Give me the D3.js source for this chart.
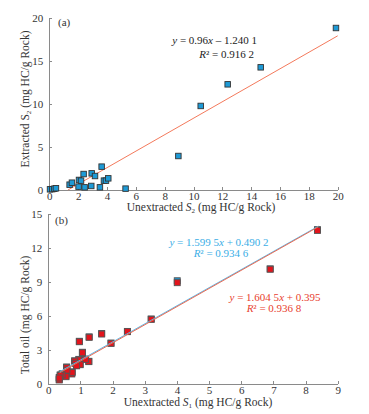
<!DOCTYPE html>
<html>
<head>
<meta charset="utf-8">
<script src="https://d3js.org/d3.v7.min.js"></script>
<style>
  body { margin: 0; background: #fff; }
  svg { font-family: "Liberation Serif", "DejaVu Serif", serif; }
  .axis path, .axis line { stroke: #8a8a8a; shape-rendering: crispEdges; }
  .axis text { font-size: 11px; fill: #333; font-family: "Liberation Serif", serif; }
  .title { font-size: 11.5px; fill: #333; }
</style>
</head>
<body>
<svg id="chart" width="369" height="414"></svg>
<script>
// panel (a): unextracted S2 vs extracted S2
var s2Unextracted = [0.05, 0.2, 0.35, 0.46, 1.41, 1.57, 2.06, 2.2, 2.38, 2.03, 2.45, 2.94, 2.91, 3.17, 3.51, 3.63, 3.79, 3.93, 4.09, 5.29, 8.95, 10.5, 12.37, 14.66, 19.88];
var s2Extracted   = [0.08, 0.1, 0.15, 0.2, 0.62, 0.85, 1.17, 1.09, 1.86, 0.39, 0.31, 1.94, 0.47, 1.63, 0.31, 2.72, 1.09, 1.09, 1.36, 0.16, 3.96, 9.79, 12.31, 14.29, 18.87];
var fitA = [0.96, -1.2401];          // slope, intercept
var xTicksA = [0, 2, 4, 6, 8, 10, 12, 14, 16, 18, 20];
var yTicksA = [0, 5, 10, 15, 20];

// panel (b): unextracted S1 vs total oil (two series)
var s1Unextracted = [8.37, 6.90, 4.01, 3.20, 2.46, 1.95, 1.66, 1.27, 0.965, 1.06, 1.26, 1.16, 0.95, 0.99, 0.82, 0.84, 0.88, 0.73, 0.74, 0.57, 0.58, 0.55, 0.43, 0.37, 0.34, 0.34];
var totalOilBlue  = [13.62, 10.15, 9.10, 5.72, 4.62, 3.59, 4.44, 4.14, 3.75, 2.78, 1.98, 2.18, 2.15, 1.72, 2.02, 1.85, 1.62, 0.92, 1.05, 1.48, 1.25, 0.68, 0.88, 0.78, 0.38, 0.55];
var totalOilRed   = [13.55, 10.12, 8.93, 5.69, 4.60, 3.57, 4.39, 4.10, 3.71, 2.74, 1.95, 2.15, 2.10, 1.68, 2.00, 1.80, 1.58, 0.86, 1.00, 1.42, 1.20, 0.62, 0.77, 0.72, 0.33, 0.50];
var fitBlue = [1.5995, 0.4902];
var fitRed  = [1.6045, 0.395];
var xTicksB = [0, 1, 2, 3, 4, 5, 6, 7, 8, 9];
var yTicksB = [0, 3, 6, 9, 12, 15];

var svg = d3.select("#chart");

function drawAxes(x, y, xt, yt, yBase, xLeft) {
  svg.append("g").attr("class", "axis")
    .attr("transform", "translate(0," + yBase + ")")
    .call(d3.axisBottom(x).tickValues(xt).tickSizeInner(-3).tickSizeOuter(0).tickPadding(2).tickFormat(d3.format("d")));
  svg.append("g").attr("class", "axis")
    .attr("transform", "translate(" + xLeft + ",0)")
    .call(d3.axisLeft(y).tickValues(yt).tickSizeInner(-3).tickSizeOuter(0).tickPadding(6).tickFormat(d3.format("d")));
}

function fitLine(fit, x0, x1, x, y, color) {
  var line = d3.line().x(function(d) { return x(d); }).y(function(d) { return y(fit[0] * d + fit[1]); });
  svg.append("path").datum([x0, x1])
    .attr("d", line).attr("fill", "none").attr("stroke", color).attr("stroke-width", 1);
}

function squares(xs, ys, x, y, fill, stroke, size) {
  svg.append("g").selectAll("rect").data(xs).enter().append("rect")
    .attr("x", function(d) { return x(d) - size / 2; })
    .attr("y", function(d, i) { return y(ys[i]) - size / 2; })
    .attr("width", size).attr("height", size)
    .attr("fill", fill).attr("stroke", stroke).attr("stroke-width", 0.9);
}

// ---- panel (a)
var xA = d3.scaleLinear().domain([0, 20]).range([49.3, 337.7]);
var yA = d3.scaleLinear().domain([0, 20]).range([190, 18.3]);
drawAxes(xA, yA, xTicksA, yTicksA, 190, 49.3);
fitLine(fitA, -fitA[1] / fitA[0], 20, xA, yA, "#f47a5c");
squares(s2Unextracted, s2Extracted, xA, yA, "#1e9ad6", "#333", 5.5);

svg.append("text").attr("x", 58).attr("y", 26).attr("font-size", 11).attr("fill", "#333").text("(a)");
var eqA = svg.append("text").attr("x", 257).attr("y", 44).attr("text-anchor", "end").attr("font-size", 11).attr("fill", "#222");
eqA.append("tspan").attr("font-style", "italic").text("y");
eqA.append("tspan").text(" = 0.96");
eqA.append("tspan").attr("font-style", "italic").text("x");
eqA.append("tspan").text(" \u2013 1.240 1");
var rA = svg.append("text").attr("x", 254).attr("y", 58).attr("text-anchor", "end").attr("font-size", 11).attr("fill", "#222");
rA.append("tspan").attr("font-style", "italic").text("R");
rA.append("tspan").text("\u00b2 = 0.916 2");

var tA = svg.append("text").attr("class", "title").attr("x", 201).attr("y", 210.5).attr("text-anchor", "middle");
tA.append("tspan").text("Unextracted ");
tA.append("tspan").attr("font-style", "italic").text("S");
tA.append("tspan").attr("font-size", 7).attr("dy", 2).text("2");
tA.append("tspan").attr("dy", -2).text(" (mg HC/g Rock)");

var yTitleA = svg.append("text").attr("class", "title").attr("text-anchor", "middle")
  .attr("transform", "translate(29,99) rotate(-90)");
yTitleA.append("tspan").text("Extracted S");
yTitleA.append("tspan").attr("font-size", 7).attr("dy", 2).text("2");
yTitleA.append("tspan").attr("dy", -2).text(" (mg HC/g Rock)");

// ---- panel (b)
var xB = d3.scaleLinear().domain([0, 9]).range([48.3, 337.7]);
var yB = d3.scaleLinear().domain([0, 15]).range([383.7, 214]);
drawAxes(xB, yB, xTicksB, yTicksB, 383.7, 48.3);
squares(s1Unextracted, totalOilBlue, xB, yB, "#1e9ad6", "#555", 6);
squares(s1Unextracted, totalOilRed, xB, yB, "#e3141c", "#555", 6);
fitLine(fitBlue, 0.35, 8.4, xB, yB, "#5bb6e6");
fitLine(fitRed, 0.35, 8.4, xB, yB, "#ea6a52");

svg.append("text").attr("x", 55).attr("y", 224).attr("font-size", 11).attr("fill", "#333").text("(b)");

var eqB1 = svg.append("text").attr("x", 219).attr("y", 246).attr("text-anchor", "middle").attr("font-size", 11).attr("fill", "#3aaee6");
eqB1.append("tspan").attr("font-style", "italic").text("y");
eqB1.append("tspan").text(" = 1.599 5");
eqB1.append("tspan").attr("font-style", "italic").text("x");
eqB1.append("tspan").text(" + 0.490 2");
var rB1 = svg.append("text").attr("x", 221).attr("y", 257).attr("text-anchor", "middle").attr("font-size", 11).attr("fill", "#3aaee6");
rB1.append("tspan").attr("font-style", "italic").text("R");
rB1.append("tspan").text("\u00b2 = 0.934 6");

var eqB2 = svg.append("text").attr("x", 275).attr("y", 301).attr("text-anchor", "middle").attr("font-size", 11).attr("fill", "#e8402e");
eqB2.append("tspan").attr("font-style", "italic").text("y");
eqB2.append("tspan").text(" = 1.604 5");
eqB2.append("tspan").attr("font-style", "italic").text("x");
eqB2.append("tspan").text(" + 0.395");
var rB2 = svg.append("text").attr("x", 274).attr("y", 312).attr("text-anchor", "middle").attr("font-size", 11).attr("fill", "#e8402e");
rB2.append("tspan").attr("font-style", "italic").text("R");
rB2.append("tspan").text("\u00b2 = 0.936 8");

var tB = svg.append("text").attr("class", "title").attr("x", 198).attr("y", 406).attr("text-anchor", "middle");
tB.append("tspan").text("Unextracted ");
tB.append("tspan").attr("font-style", "italic").text("S");
tB.append("tspan").attr("font-size", 7).attr("dy", 2).text("1");
tB.append("tspan").attr("dy", -2).text(" (mg HC/g Rock)");

svg.append("text").attr("class", "title").attr("text-anchor", "middle")
  .attr("transform", "translate(29,315) rotate(-90)")
  .text("Total oil (mg HC/g Rock)");
</script>
</body>
</html>
